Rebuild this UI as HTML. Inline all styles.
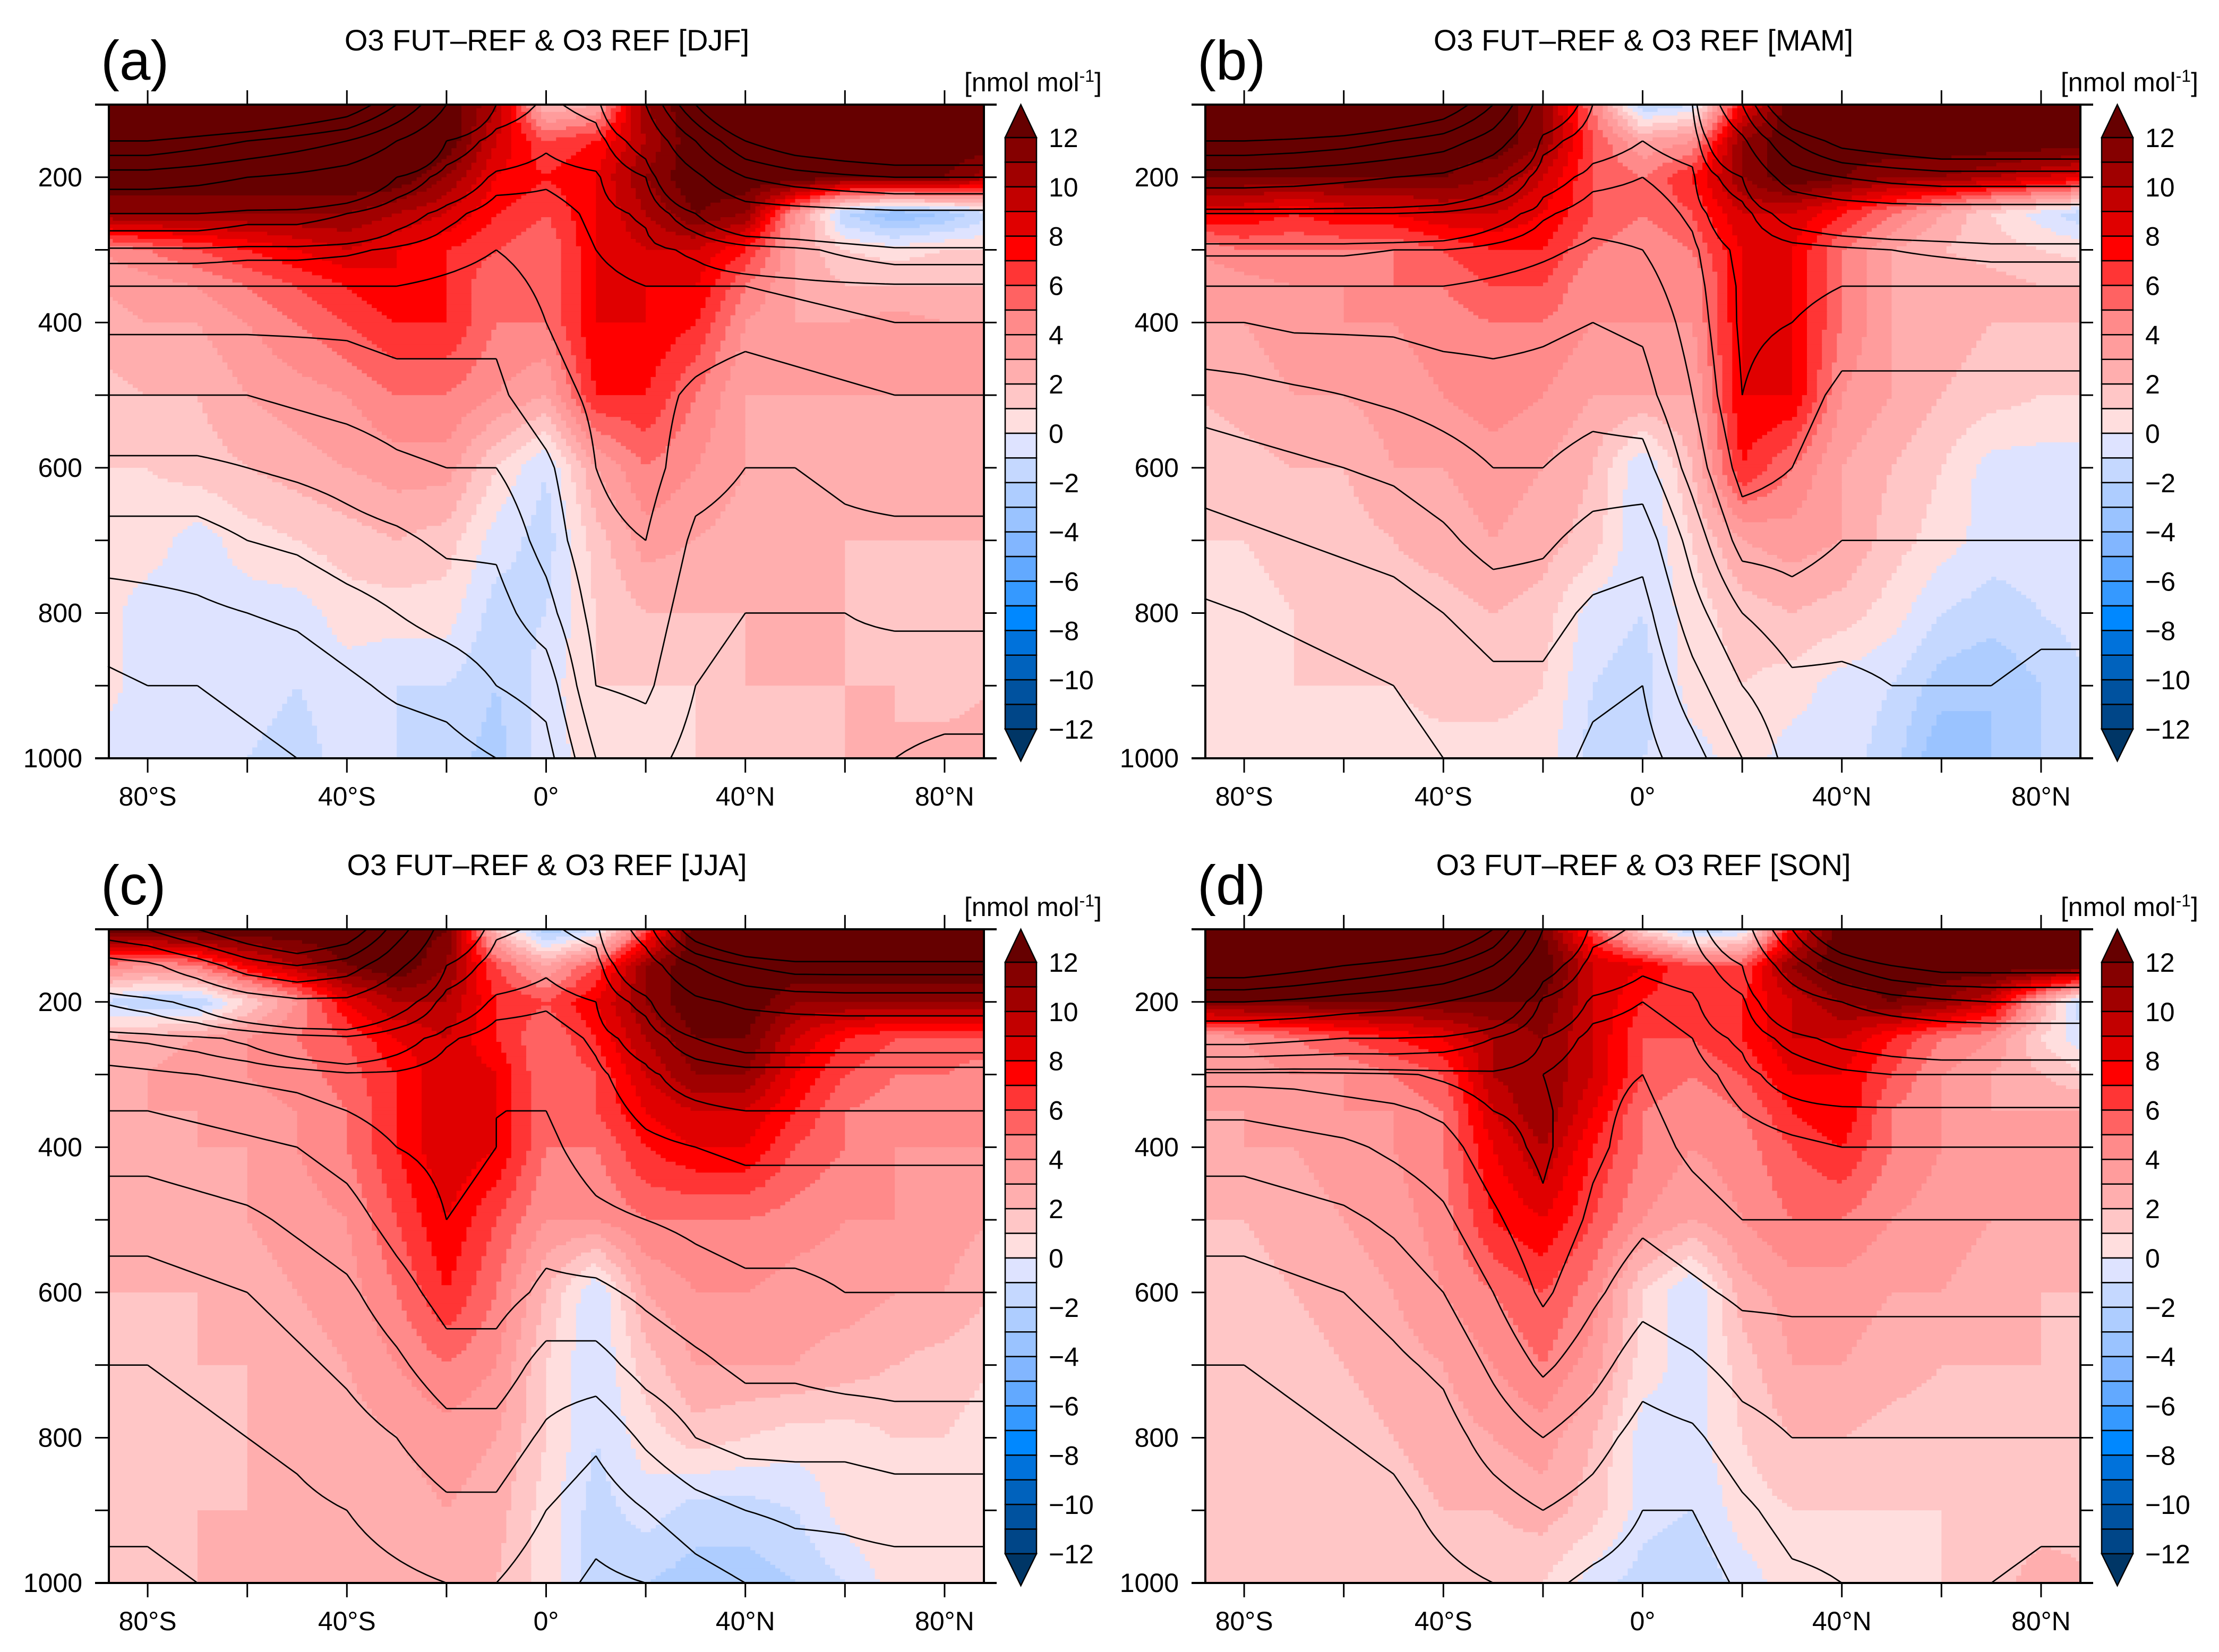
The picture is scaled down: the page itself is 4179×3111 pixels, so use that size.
<!DOCTYPE html>
<html><head><meta charset="utf-8">
<style>
html,body{margin:0;padding:0;background:#fff;}
svg{display:block;}
text{font-family:"Liberation Sans Narrow","Liberation Sans",sans-serif;fill:#000;}
</style></head>
<body>
<svg id="fig" xmlns="http://www.w3.org/2000/svg" width="4179" height="3111" viewBox="0 0 4179 3111"></svg>
<script>
// ---- data ----
const lats = [-90,-80,-70,-60,-50,-40,-30,-20,-10,0,10,20,30,40,50,60,70,80,90];
const levels = [100,150,200,250,300,350,400,500,600,700,800,900,1000];
const seasons = ["DJF","MAM","JJA","SON"];
const panelLetters = ["(a)","(b)","(c)","(d)"];
const cbarLabels = [12,10,8,6,4,2,0,-2,-4,-6,-8,-10,-12];
const xTickLabels = ["80°S","40°S","0°","40°N","80°N"];
const xTickLats = [-80,-40,0,40,80];
const yTickLabels = [200,400,600,800,1000];
const contourLevels = [20,25,30,35,40,45,50,55,60,80,100,200,300,400,500];

// O3 FUT-REF difference (nmol/mol)
const djf = [
[13,13,13,13,13,13,13,13,10,2,3,11,13,13,13,13,13,13,13],
[13,13,13,13,13,13,13,13,9,6,7,10,13,13,13,13,13,13,13],
[13,13,13,13,13,13,13,11,8,7,8,11,13,13,13,12,12,12,10],
[11,11,11,11,11,11,10,9,7,6,8,10,12,11,4,-2,-4,-3,-1],
[4,5,6,7,8,9,8,7,6,5,8,9,9,7,3,1,0.5,1,1],
[3,3.5,4,5,6,7,8,7,5,5,8,8,8,5,3,2,2,2,2],
[2.5,3,3,4,5,6,7,7,5,5,8,8,7,4,3,3,3.5,3,3],
[1.5,2,2,3,3.5,4,5,5,4,3,7,7,5,3,3,3,3,3,3],
[1,1,1.5,2,2.5,3,3.5,3.5,1,-1,3,5,4,3,2.5,2,2,2,2],
[0.5,0.5,-0.5,0.5,1,1.5,2,1.5,-0.5,-1.5,1.5,3.5,3,2.5,2,2,2,2,2],
[0.5,-0.5,-0.5,-0.5,-0.5,0.5,0.5,0.5,-1.5,-1,1,2,2,2,2,2,1,1,2],
[0.5,-0.5,-0.5,-0.5,-1,-0.5,-1,-1,-2,-0.5,1,1,1,2,2,2,2,1,2],
[-0.5,-0.5,-1,-1,-1.5,-0.5,-1,-1.5,-2.5,-0.5,0.5,0.5,1,1,1.5,2,2,3,3]];
const mam = [
[13,13,13,13,13,13,13,11,5,-2,-1,8,13,13,13,13,13,13,13],
[13,13,13,13,13,13,13,11,6,3,4,11,13,13,13,13,13,13,13],
[12,12,12,12,12,12,11,9,6,5,7,11,13,12,11,11,10,9,8],
[8,8,7,8,8,9,9,8,6,5,6,9,9,7,5,3,1,-0.5,-2],
[4,5,5,5,5,6,7,7,5,4,5,8,8,5,3,2,1.5,1,0.5],
[3,3.5,4,4,5,5,6,6,4,4,4,8,8,5,3,3,2.5,2,2],
[3,3,3.5,4,4,4.5,5,5,4,4,4,8,8,5,3,2.5,2,2,2],
[2,2.5,3,3,3.5,4,4.5,4,3,3,3,8,8,4,3,2,1.5,1,1],
[1,1.5,2,2,3,3,3.5,3,2,-1,2,7,5,3,2,1,-0.5,-0.5,-0.5],
[1,1,1.5,1.5,2,2.5,3,2.5,1.5,-1,1,3,3.5,3,1.5,0.5,-0.5,-0.5,-0.5],
[0.5,0.5,1,1,1.5,1.5,2,1.5,-0.5,-1,0.5,1.5,2,1.5,0.5,-1,-1.5,-1,-0.5],
[0.5,0.5,1,1,1,1.5,1.5,1,-1,-1.5,0.5,1,0.5,-0.5,-1,-2.5,-3,-2,-1],
[0.5,0.5,0.5,0.5,0.5,0.5,0.5,0.5,-1.5,-1,-0.5,0.5,-0.5,-0.5,-1.5,-4,-3,-2,-1.5]];
const jja = [
[13,13,13,13,13,13,13,12,2,-3,-1,6,13,13,13,13,13,13,13],
[5,4,5,8,10,12,13,11,6,3,6,11,13,13,13,13,13,13,13],
[-1,-2,-2,1,4,8,10,10,7,6,8,11,13,13,11,11,11,11,11],
[2,2.5,3,4,5,6,8,9,7,5,7,10,12,12,9,7,6,6,6],
[2.5,3,3.5,4,4.5,5.5,7,9,8,5,6,9,11,11,8,6,5,5,4],
[2.5,3,3,3.5,4,5,7,9,8,5,6,8,9,9,7,5,4.5,4,4],
[2,2.5,3,3,4,5,7,9,8,5,5,7,8,8,6,5,4,4,4],
[2,2,2.5,3,3.5,4,6,8,6,4,4,5,5,5,4.5,4,4,3.5,3],
[2,2,2,2.5,3,3.5,5,7,5,2,-1,3,4,4,3.5,3.5,3,3,2],
[1.5,1.5,2,2,2.5,3,4,5,4,1,-1,1.5,3,3,3,2.5,2,1.5,1],
[1.5,1.5,1.5,2,2,2.5,3,3.5,3,1,-1,0.5,1.5,1,0.5,0.5,1,1,0.5],
[1.5,1.5,2,2,2,2,2.5,3,2.5,0.5,-1.5,-0.5,-1.5,-1.5,-1,0.5,1,0.5,0.5],
[1.5,1.5,2,2,2,2,2.5,2.5,2,0.5,-1.5,-2,-2.5,-2.5,-2,-1,0.5,0.5,0.5]];
const son = [
[13,13,13,13,13,13,13,12,6,1,-2,-1,8,13,13,13,13,13,13],
[13,13,13,13,13,13,13,13,9,8,6,6,11,13,13,13,13,13,13],
[12,12,12,12,12,12,12,12,9,7,6,7,9,11,12,11,9,3,-3],
[3,4,5,6,7,8,10,11,9,6,6,7,9,9,7,5,4,1,-1],
[3,3.5,4,4,5,6,10,11,9,6,5,6,8,8,6,4,3,2,1],
[3,3,3.5,4,4,5,9,11,8,5,4,5,7,8,5,4,3,3,3],
[2.5,3,3,3.5,4,5,8,10,7,5,4,4.5,6,7,5,4,3,3,3],
[2,2,2.5,3,3.5,4.5,7,8,6,4,3,4,5,5,4,3.5,3,3,3],
[1.5,1.5,2,2.5,3,4,5,6,4.5,1,-1,2.5,3.5,3.5,3,3,2.5,2,2],
[1,1.5,1.5,2,2.5,3,4,5,3.5,0.5,-0.5,1.5,3,3,2.5,2,2,2,1.5],
[1,1,1.5,1.5,2,2.5,3,3.5,2,-0.5,-0.5,1,2,2,1.5,1.5,1.5,1.5,1],
[1,1,1,1.5,1.5,2,2,2.5,1.5,-0.5,-1,0.5,1,1,1,1,1,1,1.5],
[1,1,1,1,1,1,1.5,1,-0.5,-1.5,-2,-0.5,0.5,0.5,0.5,1,1,3,2]];
const fields = [djf,mam,jja,son];

// O3 REF (nmol/mol) contour fields
const refDjf = [
[900,900,850,800,700,600,400,200,100,75,90,200,500,800,1000,1100,1200,1200,1200],
[500,500,450,400,350,300,200,100,70,62,70,120,300,500,600,650,700,700,700],
[250,250,230,200,180,150,100,70,58,56,58,80,180,300,350,380,400,400,400],
[100,100,100,90,90,80,65,57,52,53,56,62,100,150,160,170,180,180,180],
[58,58,58,57,57,56,54,52,50,52,55,57,62,70,75,85,95,95,95],
[50,50,50,50,50,50,50,49,48,51,54,55,55,55,56,57,58,58,58],
[46,46,46,46,46,46,47,46,46,50,53,54,53,52,53,54,55,55,55],
[40,40,40,40,41,42,43,44,44,48,51,52,49,47,48,49,50,50,50],
[34,34,34,35,36,37,39,40,40,44,50,52,47,45,45,46,47,47,47],
[28,28,28,30,31,33,34,36,36,42,49,50,44,43,43,44,44,44,44],
[22,23,24,25,26,28,30,32,33,38,47,48,42,40,40,40,41,41,41],
[19,20,20,21,22,24,26,27,30,32,45,46,40,38,38,38,37,37,37],
[18,18,18,19,20,21,22,23,25,28,40,42,38,36,36,36,35,34,34]];
const refMam = [
[900,900,850,800,700,600,400,150,80,70,80,300,700,900,1000,1100,1100,1100,1100],
[500,500,480,450,400,350,250,90,65,60,65,180,400,550,600,650,650,650,650],
[250,250,240,220,200,180,120,65,57,55,58,100,250,300,330,350,350,350,350],
[80,80,80,80,80,75,65,56,52,52,56,70,120,140,150,150,150,150,150],
[56,56,56,56,55,55,53,51,49,50,54,62,70,75,80,85,90,90,90],
[50,50,50,50,50,50,49,48,47,48,53,61,62,60,60,60,60,60,60],
[45,45,46,46,46,47,47,46,45,46,52,61,60,57,57,57,57,57,57],
[37,38,39,40,41,42,43,43,42,43,50,60,57,54,54,54,54,54,54],
[32,33,34,35,36,38,40,40,38,38,47,57,55,52,52,52,52,52,52],
[28,29,30,31,32,34,37,36,33,32,42,52,52,50,50,50,50,50,50],
[24,25,26,27,28,30,32,32,29,28,38,45,48,47,47,47,47,46,46],
[22,22,23,24,25,27,29,29,26,25,33,40,44,44,45,45,45,44,44],
[20,20,21,22,23,25,27,27,24,23,28,35,42,42,43,44,44,43,43]];
const refJja = [
[350,400,500,600,700,600,350,150,85,75,90,250,600,800,900,900,900,900,900],
[150,180,250,350,400,350,220,100,68,62,70,150,300,400,450,450,450,450,450],
[80,90,110,150,180,180,120,70,58,56,60,90,180,220,240,250,250,250,250],
[55,56,58,62,70,75,65,56,52,52,56,65,100,120,120,120,120,120,120],
[48,49,50,51,52,54,54,52,50,50,54,58,65,70,70,70,70,70,70],
[45,45,46,47,48,50,52,52,50,50,53,56,58,60,60,60,60,60,60],
[42,42,43,44,45,47,50,51,50,49,52,54,55,56,56,56,56,56,56],
[37,37,38,39,41,43,47,50,49,47,49,50,51,52,52,52,52,52,52],
[33,33,34,35,37,39,43,47,47,44,44,46,48,49,49,50,50,50,50],
[30,30,31,32,34,36,39,43,43,38,38,42,44,46,46,47,47,47,47],
[28,28,29,30,31,33,35,38,38,34,31,36,40,42,42,42,43,43,43],
[26,26,27,28,29,30,32,34,34,30,27,30,33,35,36,36,37,37,37],
[24,24,25,26,27,28,29,30,30,27,24,25,28,30,32,33,33,33,33]];
const refSon = [
[1000,1000,950,900,800,700,500,200,90,75,80,150,400,700,900,1000,1000,1000,1000],
[600,600,550,500,450,400,300,120,70,62,66,100,250,400,500,550,550,550,550],
[300,300,280,250,230,200,150,75,58,55,58,75,150,200,250,280,300,300,300],
[110,110,105,100,100,95,80,60,53,52,55,62,90,110,120,130,130,130,130],
[52,52,52,53,54,56,58,55,51,50,53,57,65,75,80,80,80,80,80],
[46,46,47,48,49,51,55,56,51,49,52,55,57,58,58,58,58,58,58],
[42,42,43,44,46,48,53,56,51,48,51,53,54,55,55,55,55,55,55],
[37,37,38,39,41,44,49,54,49,46,48,50,50,50,50,50,50,50,50],
[33,33,34,35,37,40,45,51,46,42,44,46,46,46,46,46,46,46,46],
[30,30,31,32,34,36,41,46,42,37,39,42,43,43,43,43,43,43,43],
[28,28,29,30,31,33,37,40,37,33,34,38,40,40,40,40,40,40,40],
[26,26,27,28,29,31,33,35,33,30,30,34,37,37,37,37,37,36,36],
[25,25,26,27,28,29,30,31,29,28,27,31,34,35,35,35,35,34,34]];
const refFields = [refDjf,refMam,refJja,refSon];

// ---- style ----
const redCols = ["#850000","#a00000","#c20000","#e00000","#ff0000","#ff3535","#ff6262","#ff8a8a","#ff9c9c","#ffaeae","#ffc6c6","#ffdede"];
const blueCols = ["#dee3ff","#c5d8ff","#aecdff","#9ac3ff","#82b6ff","#62a9ff","#3599ff","#0088ff","#0072db","#0062bd","#00529f","#004688"];
const overCol = "#660000", underCol = "#003666";
function colorFor(v){
  v=Math.round(v*1000)/1000;
  if (v>=12) return overCol;
  if (v<=-12) return underCol;
  if (v>=0) return redCols[11-Math.floor(v)];
  return blueCols[Math.floor(-v)];
}
const NS="http://www.w3.org/2000/svg";
const svg=document.getElementById('fig');
function mk(tag,attrs,parent){const e=document.createElementNS(NS,tag);for(const k in attrs)e.setAttribute(k,attrs[k]);(parent||svg).appendChild(e);return e;}

const offX=[0,2065,0,2065], offY=[0,0,1553,1553];
const FL=205, FR=1853, FT=197, FB=1428, AXL=179, AXR=1877;
function xOf(lat,ox){return ox+1028.5+9.38*lat;}
function yOf(p,oy){return oy+FT+(p-100)/900*(FB-FT);}
function sample(F,lat,p){
  let i=Math.min(17,Math.max(0,Math.floor((lat+90)/10)));
  let tx=(lat-lats[i])/10;
  let j=0; while(j<levels.length-2 && p>levels[j+1]) j++;
  let ty=(p-levels[j])/(levels[j+1]-levels[j]);
  const a=F[j][i],b=F[j][i+1],c=F[j+1][i],d=F[j+1][i+1];
  return a*(1-tx)*(1-ty)+b*tx*(1-ty)+c*(1-tx)*ty+d*tx*ty;
}

for(let k=0;k<4;k++){
  const ox=offX[k], oy=offY[k], F=fields[k], R=refFields[k];
  const g=mk('g',{});
  
  
  const fill=mk('g',{},g);
  
  
  const latStep=1, pStep=5;
  for(let p=100;p<1000;p+=pStep){
    const y0=yOf(p,oy), y1=yOf(p+pStep,oy);
    let runStart=-88, runCol=null;
    for(let lat=-88;lat<=88;lat+=latStep){
      const col = lat<88 ? colorFor(sample(F,lat+latStep/2,p+pStep/2)) : null;
      if(col!==runCol){
        if(runCol!==null){
          const xa=Math.max(xOf(runStart,ox),ox+FL), xb=Math.min(xOf(lat,ox),ox+FR);
          const r=mk('rect',{x:xa.toFixed(1),y:y0.toFixed(1),width:(xb-xa+1).toFixed(1),height:(y1-y0+1).toFixed(1),fill:runCol},fill);
          
          
        }
        runStart=lat; runCol=col;
      }
    }
  }
  // contours of REF field (marching squares)
  const cg=mk('g',{fill:'none',stroke:'#000','stroke-width':2.6},g);
  
  
  const dl=2, dp=10;
  const nx=Math.round(176/dl), ny=Math.round(900/dp);
  const grid=[];
  for(let j=0;j<=ny;j++){const row=[];for(let i=0;i<=nx;i++){row.push(sample(R,-88+i*dl,100+j*dp));}grid.push(row);}
  contourLevels.forEach(L=>{
    let d='';
    const X=(i)=>xOf(-88+i*dl,ox), Y=(j)=>yOf(100+j*dp,oy);
    for(let j=0;j<ny;j++)for(let i=0;i<nx;i++){
      const a=grid[j][i],b=grid[j][i+1],c=grid[j+1][i+1],e=grid[j+1][i];
      const pts=[];
      const edge=(v1,v2,x1,y1,x2,y2)=>{ if((v1<L)!==(v2<L)){const t=(L-v1)/(v2-v1);pts.push([x1+(x2-x1)*t,y1+(y2-y1)*t]);} };
      edge(a,b,X(i),Y(j),X(i+1),Y(j));
      edge(b,c,X(i+1),Y(j),X(i+1),Y(j+1));
      edge(c,e,X(i+1),Y(j+1),X(i),Y(j+1));
      edge(e,a,X(i),Y(j+1),X(i),Y(j));
      for(let q=0;q+1<pts.length;q+=2){
        d+=`M${pts[q][0].toFixed(1)} ${pts[q][1].toFixed(1)}L${pts[q+1][0].toFixed(1)} ${pts[q+1][1].toFixed(1)}`;
      }
    }
    if(d){
      const pth=mk('path',{d:d},cg);
      
      
    }
  });
  // frame
  const fr=mk('rect',{x:ox+FL,y:oy+FT,width:FR-FL,height:FB-FT,fill:'none',stroke:'#000','stroke-width':4},g);
  
  
  mk('line',{x1:ox+AXL,x2:ox+AXR,y1:oy+FT,y2:oy+FT,stroke:'#000','stroke-width':4},g);
  mk('line',{x1:ox+AXL,x2:ox+AXR,y1:oy+FB,y2:oy+FB,stroke:'#000','stroke-width':4},g);
  // x ticks
  for(let lat=-80;lat<=80;lat+=20){
    const x=xOf(lat,ox);
    mk('line',{x1:x,x2:x,y1:oy+FT,y2:oy+FT-27,stroke:'#000','stroke-width':3},g);
    mk('line',{x1:x,x2:x,y1:oy+FB,y2:oy+FB+27,stroke:'#000','stroke-width':3},g);
  }
  xTickLats.forEach((lat,i)=>{
    const t=mk('text',{x:xOf(lat,ox),y:oy+1517,'font-size':50,'text-anchor':'middle'},g);
    t.textContent=xTickLabels[i];
    
    
  });
  for(let p=200;p<=1000;p+=100){
    const y=yOf(p,oy);
    mk('line',{x1:ox+FL,x2:ox+AXL,y1:y,y2:y,stroke:'#000','stroke-width':3},g);
    mk('line',{x1:ox+FR,x2:ox+AXR,y1:y,y2:y,stroke:'#000','stroke-width':3},g);
  }
  yTickLabels.forEach(p=>{
    const t=mk('text',{x:ox+155,y:yOf(p,oy)+17,'font-size':50,'text-anchor':'end'},g);
    t.textContent=p;
    
    
  });
  const ti=mk('text',{x:ox+1030,y:oy+95,'font-size':56,'text-anchor':'middle'},g);
  ti.textContent='O3 FUT\u2013REF & O3 REF ['+seasons[k]+']';
  
  
  const pl=mk('text',{x:ox+190,y:oy+150,'font-size':105,'font-family':'Liberation Sans, sans-serif'},g);
  pl.textContent=panelLetters[k];
  
  
  const un=mk('text',{x:ox+2075,y:oy+172,'font-size':50,'text-anchor':'end'},g);
  un.innerHTML='[nmol mol<tspan dy="-18" font-size="32">-1</tspan><tspan dy="18">]</tspan>';
  
  
  // colorbar
  const cb=mk('g',{},g);
  
  
  const cx0=ox+1893, cx1=ox+1952, ct=oy+259, cbH=(1373-259)/24;
  for(let i=0;i<24;i++){
    const col=i<12?redCols[i]:blueCols[i-12];
    const r=mk('rect',{x:cx0,y:ct+i*cbH,width:cx1-cx0,height:cbH,fill:col,stroke:'#000','stroke-width':2.5},cb);
    
    
  }
  mk('polygon',{points:`${cx0},${ct} ${(cx0+cx1)/2},${oy+197} ${cx1},${ct}`,fill:overCol,stroke:'#000','stroke-width':2.5},cb);
  mk('polygon',{points:`${cx0},${ct+24*cbH} ${(cx0+cx1)/2},${oy+1433} ${cx1},${ct+24*cbH}`,fill:underCol,stroke:'#000','stroke-width':2.5},cb);
  cbarLabels.forEach((v,i)=>{
    const t=mk('text',{x:ox+1975,y:ct+i*2*cbH+18,'font-size':50},cb);
    t.textContent=v<0?'\u2212'+(-v):String(v);
    
    
  });
}
</script>
</body></html>
